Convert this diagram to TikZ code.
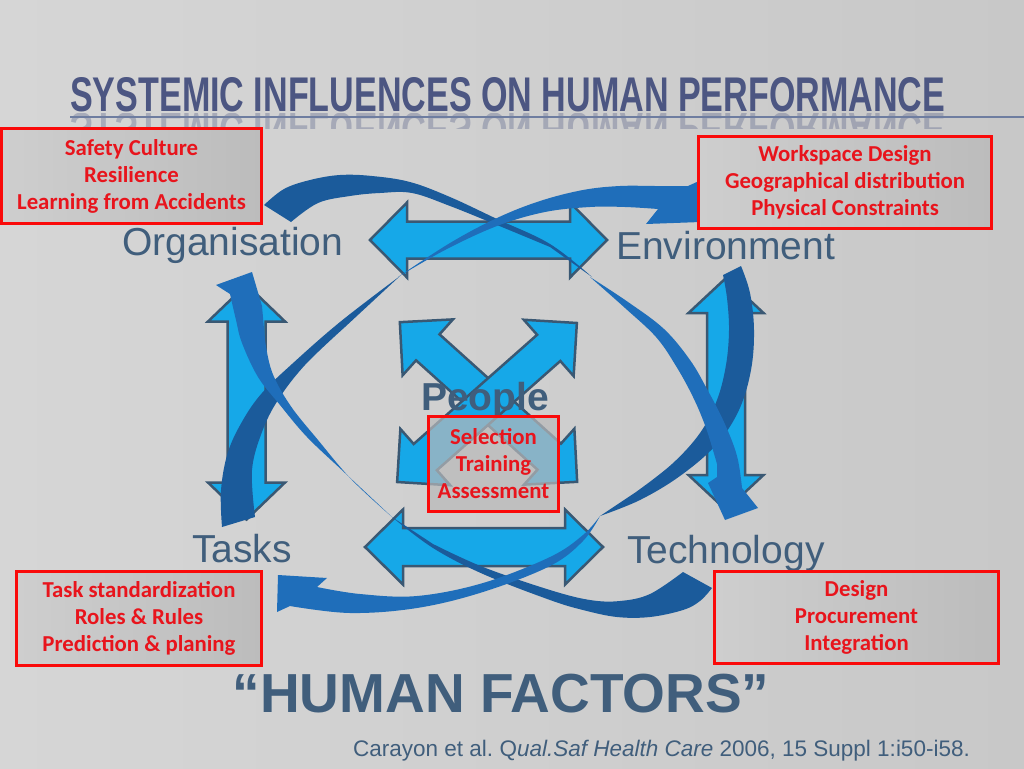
\documentclass[tikz,border=0pt]{standalone}
\usepackage{fontspec}
\setmainfont{Liberation Sans}
\newfontfamily\calfont{Carlito}
\usetikzlibrary{calc}
\definecolor{bgA}{RGB}{214,214,214}
\definecolor{bgB}{RGB}{200,200,200}
\definecolor{slate}{RGB}{64,94,124}
\definecolor{titlecol}{RGB}{76,86,130}
\definecolor{arrowfill}{RGB}{22,168,232}
\definecolor{arrowline}{RGB}{58,88,115}
\definecolor{banddark}{RGB}{27,91,155}
\definecolor{bandmid}{RGB}{31,110,186}
\definecolor{boxred}{RGB}{250,10,10}
\definecolor{textred}{RGB}{232,20,28}
\definecolor{boxA}{RGB}{206,206,206}
\definecolor{boxB}{RGB}{188,188,188}
\definecolor{boxC}{RGB}{185,185,185}
\definecolor{ruleline}{RGB}{110,125,160}
\tikzset{
  dblarrow/.style={fill=arrowfill, draw=arrowline, line width=2.5pt, line join=miter},
  darkband/.style={fill=banddark},
  midband/.style={fill=bandmid},
  boxbase/.style={draw=boxred, line width=3pt,
    text=textred, font=\calfont\bfseries\fontsize{22.8}{27}\selectfont, align=center, inner sep=0pt},
  redbox/.style={boxbase, left color=boxA, right color=boxB},
  glassbox/.style={boxbase, fill=boxC, fill opacity=0.7, text opacity=1, draw opacity=1},
  cornerlabel/.style={text=slate, font=\fontsize{39}{44}\selectfont, inner sep=0pt, anchor=base west},
}
\newcommand\dblarr[7]{%
  \begin{scope}[shift={(#1,#2)},rotate=#3]
    \draw[dblarrow] (-#4,0) -- (-#4+#5,-#6) -- (-#4+#5,-#7) -- (#4-#5,-#7) -- (#4-#5,-#6)
      -- (#4,0) -- (#4-#5,#6) -- (#4-#5,#7) -- (-#4+#5,#7) -- (-#4+#5,#6) -- cycle;
  \end{scope}}
\newcommand\titletext{\resizebox{875pt}{34pt}{\bfseries SYSTEMIC INFLUENCES ON HUMAN PERFORMANCE}}
\begin{document}
\begin{tikzpicture}[x=1pt,y=-1pt]
\useasboundingbox (0,0) rectangle (1024,768);
\fill[left color=bgA, right color=bgB] (0,0) rectangle (1024,768);

% title
\node[anchor=south west, inner sep=0pt, text=titlecol] (title) at (70,112) {\titletext};
\begin{scope}
  \clip (60,113) rectangle (960,128);
  \node[anchor=base west, inner sep=0pt, text=titlecol, opacity=0.32] (titlerefl) at (70,113)
    {\scalebox{1}[-1]{\titletext}};
\end{scope}
\draw[ruleline, line width=1.2pt] (70,117) -- (1024,117);

% straight double arrows
\dblarr{488.5}{240}{0}{118.5}{37}{37.5}{18.5}
\dblarr{484}{547}{0}{119}{38}{37.5}{19}
\dblarr{246.5}{402}{90}{117.5}{37}{38.5}{19}
\dblarr{726}{394}{90}{116}{35}{37.5}{19}

% central X arrows
\dblarr{488.5}{402}{-42}{119.3}{37.6}{37.6}{17.5}
\dblarr{487}{402.5}{41.5}{120}{37.6}{37.6}{17.5}

% curved bands: dark pieces
\fill[darkband] plot[smooth,tension=0.6] coordinates {(264,205) (284,189) (310,180) (340,175) (372,176) (410,182) (450,197) (497,219) (550,244) (592,277)}
  -- plot[smooth,tension=0.6] coordinates {(550,247) (497,225) (450,206) (412,193) (380,193) (350,196) (318,203) (291,222)} -- cycle;
\fill[darkband] plot[smooth,tension=0.6] coordinates {(222,527) (221,490) (228,452) (243,420) (262,393) (292,364) (340,322) (400,276)}
  -- plot[smooth,tension=0.6] coordinates {(345,327) (305,365) (278,400) (262,432) (252,470) (255,517)} -- cycle;
\fill[darkband] plot[smooth,tension=0.6] coordinates {(712,588) (700,601) (683,610) (650,617) (617,617) (583,610) (550,600) (483,574) (433,548) (392,517)}
  -- plot[smooth,tension=0.6] coordinates {(433,544) (483,567) (550,590) (590,600) (620,601) (650,594) (683,572)} -- cycle;
\fill[darkband] plot[smooth,tension=0.6] coordinates {(741,266) (750,293) (754,330) (751,370) (739,410) (716,445) (680,476) (640,500) (600,516)}
  -- plot[smooth,tension=0.6] coordinates {(636,492) (672,464) (700,433) (717,400) (726,365) (729,330) (727,298) (723,275)} -- cycle;

% curved bands: arrow pieces
\fill[midband] plot[smooth,tension=0.6] coordinates {(398,277) (445,250) (497,226) (545,212) (590,207) (625,207) (658,209)}
  -- (646,224) -- (701,222) -- (699,181)
  -- plot[smooth,tension=0.6] coordinates {(688,186) (655,186) (620,186) (583,190) (540,201) (497,218) (450,243) (398,277)} -- cycle;
\fill[midband] plot[smooth,tension=0.6] coordinates {(392,517) (345,473) (307,437) (280,405) (258,377) (242,343) (236,320) (230,294)}
  -- (216,285) -- (252,272) -- (262,306)
  -- plot[smooth,tension=0.6] coordinates {(265,340) (272,372) (290,405) (318,440) (352,480) (392,517)} -- cycle;
\fill[midband] plot[smooth,tension=0.6] coordinates {(600,516) (583,535) (550,557) (483,583) (417,596) (360,594) (317,587)}
  -- (327,578) -- (278,575) -- (277,612)
  -- plot[smooth,tension=0.6] coordinates {(290,606) (350,613) (417,608) (483,592) (550,566) (583,541) (600,516)} -- cycle;
\fill[midband] plot[smooth,tension=0.6] coordinates {(590,277) (628,302) (664,329) (690,360) (707,389) (724,422) (737,456) (742,488)}
  -- (758,508) -- (725,520) -- (708,483) -- (717,477)
  -- plot[smooth,tension=0.6] coordinates {(717,464) (706,428) (693,397) (676,366) (656,337) (625,308) (590,277)} -- cycle;

% corner labels
\node[cornerlabel] (org) at (122,255) {Organisation};
\node[cornerlabel] (env) at (616,259) {Environment};
\node[cornerlabel] (tasks) at (192,562) {Tasks};
\node[cornerlabel] (tech) at (627,563) {Technology};
\node[anchor=base west, inner sep=0pt, text=slate, font=\bfseries\fontsize{39}{44}\selectfont] (people) at (421,410) {People};

% red boxes
\node[redbox, minimum width=260pt, minimum height=95pt] (box1) at (131.5,176) {Safety Culture\\Resilience\\Learning from Accidents};
\node[redbox, minimum width=293pt, minimum height=92pt] (box2) at (845,182.5) {Workspace Design\\Geographical distribution\\Physical Constraints};
\node[redbox, minimum width=245pt, minimum height=94pt] (box3) at (139,618.5) {Task standardization\\Roles \& Rules\\Prediction \& planing};
\node[redbox, minimum width=284pt, minimum height=92pt] (box4) at (856.5,617.5) {Design\\Procurement\\Integration};
\node[glassbox, minimum width=130pt, minimum height=95pt] (box5) at (493.5,464) {Selection\\Training\\Assessment};

% bottom texts
\node[anchor=base, inner sep=0pt, text=slate, font=\bfseries\fontsize{55}{60}\selectfont] (hf) at (501,712) {“HUMAN FACTORS”};
\node[anchor=base west, inner sep=0pt, text=slate, font=\fontsize{22.5}{26}\selectfont] (cite) at (353,756) {Carayon et al.\ Q\textit{ual.Saf Health Care} 2006, 15 Suppl 1:i50-i58.};
\end{tikzpicture}
\end{document}
